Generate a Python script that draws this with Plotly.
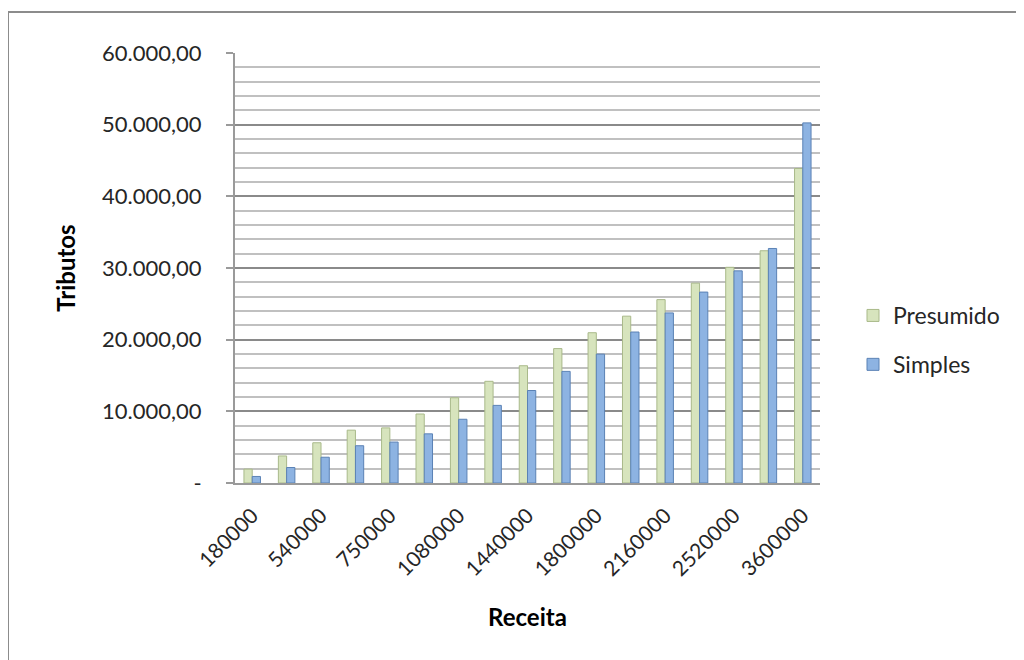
import plotly.graph_objects as go

receita = ["180000", "360000", "540000", "720000", "750000", "900000", "1080000",
           "1260000", "1440000", "1620000", "1800000", "1980000", "2160000",
           "2340000", "2520000", "2700000", "3600000"]
presumido = [1936, 3776, 5615, 7372, 7690, 9627, 11895, 14191, 16362, 18755,
             20968, 23278, 25588, 27884, 30097, 32407, 43887]
simples = [913, 2158, 3596, 5200, 5712, 6860, 8894, 10830, 12905, 15574,
           17981, 21065, 23734, 26639, 29599, 32725, 50249]

y_tickvals = [0, 10000, 20000, 30000, 40000, 50000, 60000]
y_ticktext = ["-", "10.000,00", "20.000,00", "30.000,00", "40.000,00", "50.000,00", "60.000,00"]
x_tickvals = receita[::2]

FONT = "Lato"
TXT = "#262626"

fig = go.Figure()
fig.add_trace(go.Bar(
    x=receita, y=presumido, name="Presumido",
    marker=dict(color="#d7e4bd", line=dict(color="#a9b98a", width=1)),
    legendgroup="a",
))
fig.add_trace(go.Bar(
    x=receita, y=simples, name="Simples",
    marker=dict(color="#8db3e2", line=dict(color="#5b82b5", width=1)),
    legendgroup="b",
))

# page body has an 8px margin; work in figure coordinates
OFF = 8
W, H = 1024 - OFF, 660 - OFF
L, R, T, B = 235 - OFF, 820 - OFF, 53 - OFF, 483 - OFF


def px(x):
    return (x - OFF - L) / (R - L)


def py(y):
    return (B - (y - OFF)) / (B - T)


fig.update_layout(
    width=W, height=H,
    margin=dict(l=L, r=W - R, t=T, b=H - B, pad=0),
    paper_bgcolor="white", plot_bgcolor="white",
    barmode="group", bargap=0.52, bargroupgap=0.0,
    font=dict(family=FONT, size=22, color=TXT),
    showlegend=True,
    legend=dict(
        x=px(853), y=py(340), xanchor="left", yanchor="middle",
        font=dict(family=FONT, size=23, color=TXT),
        tracegroupgap=16, bgcolor="rgba(0,0,0,0)",
    ),
    xaxis=dict(
        type="category", tickmode="array", tickvals=x_tickvals, ticktext=x_tickvals,
        tickangle=-45, showgrid=False, showline=True, linecolor="#9a9a9a", linewidth=2,
        ticks="", ticklabelstandoff=10, tickfont=dict(family=FONT, size=21, color=TXT),
        title=dict(text="<b>Receita</b>", font=dict(family=FONT, size=24, color="#000000"), standoff=30),
    ),
    yaxis=dict(
        range=[0, 60000], tickmode="array", tickvals=y_tickvals, ticktext=y_ticktext,
        showgrid=True, gridcolor="#8a8a8a", gridwidth=2,
        minor=dict(dtick=2000, showgrid=True, gridcolor="#c0c0c0", gridwidth=2),
        showline=True, linecolor="#9a9a9a", linewidth=2,
        ticks="outside", ticklen=7, tickcolor="#9a9a9a", tickwidth=2,
        ticklabelstandoff=20,
        tickfont=dict(family=FONT, size=22, color=TXT),
        zeroline=False,
        title=dict(text="<b>Tributos</b>", font=dict(family=FONT, size=24, color="#000000"), standoff=20),
    ),
    shapes=[
        dict(type="line", xref="paper", yref="paper", x0=px(8), x1=px(8), y0=py(700), y1=py(12),
             line=dict(color="#8c8c8c", width=2)),
        dict(type="line", xref="paper", yref="paper", x0=px(8), x1=px(1040), y0=py(12), y1=py(12),
             line=dict(color="#8c8c8c", width=2)),
    ],
)

fig.write_html("out.html")
